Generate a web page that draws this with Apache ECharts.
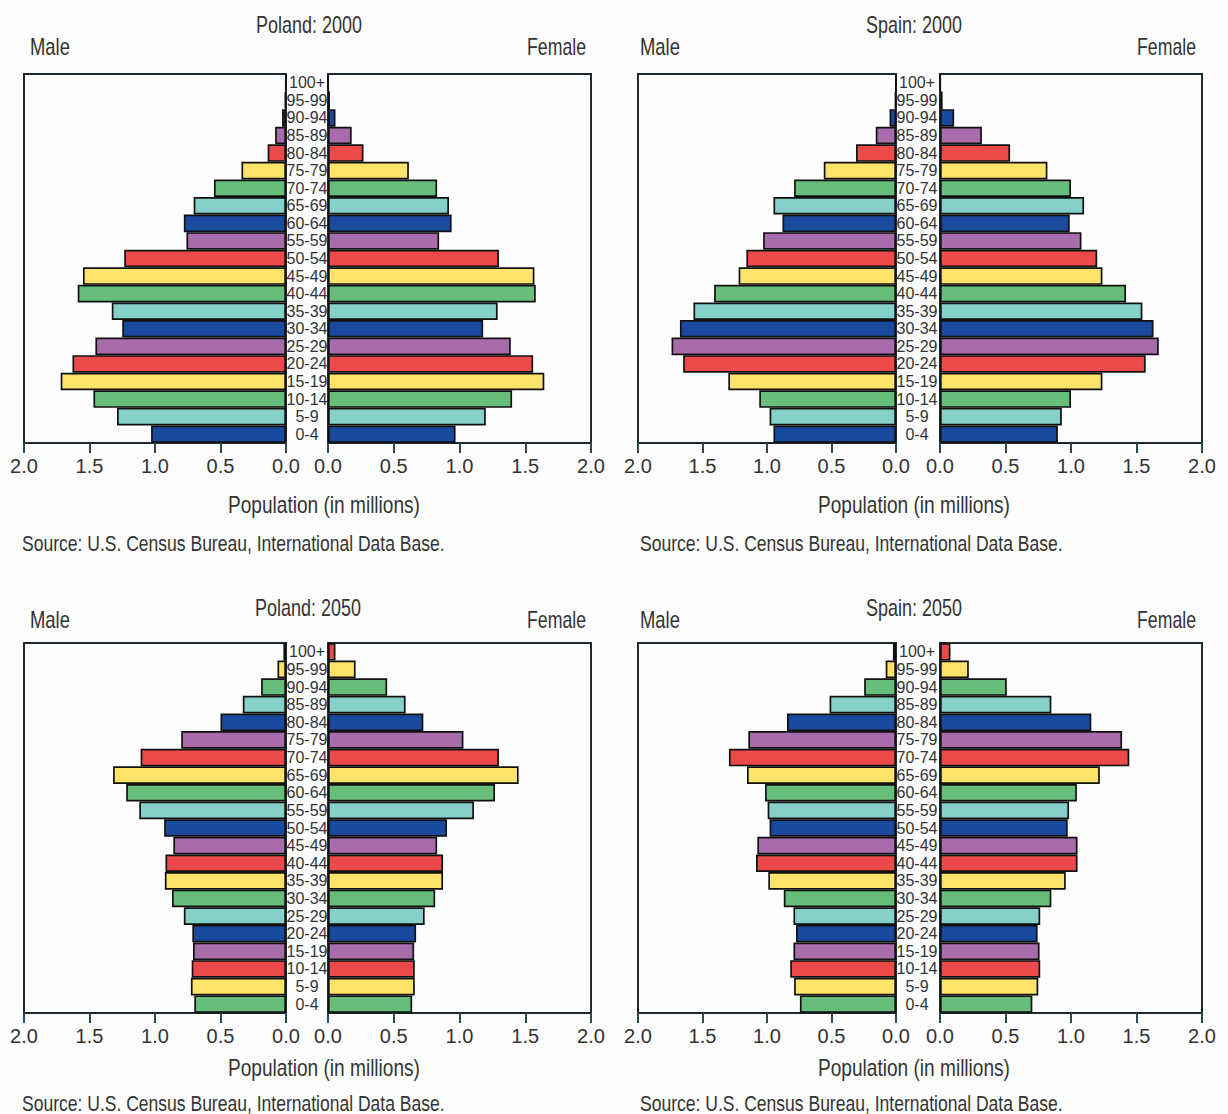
<!DOCTYPE html>
<html>
<head>
<meta charset="utf-8">
<script src="https://cdn.jsdelivr.net/npm/echarts@6/dist/echarts.min.js"></script>
<style>
html,body{margin:0;padding:0;background:#fdfdfe;}
#chart{width:1228px;height:1114px;}
</style>
</head>
<body>
<div id="chart"></div>
<script>
// ---------- data ----------
const ageGroups = ['0-4','5-9','10-14','15-19','20-24','25-29','30-34','35-39','40-44','45-49','50-54','55-59','60-64','65-69','70-74','75-79','80-84','85-89','90-94','95-99','100+'];
const axisTicks = [0, 0.5, 1.0, 1.5, 2.0];

const polandMale2000   = [1.03, 1.29, 1.47, 1.72, 1.63, 1.455, 1.25, 1.33, 1.59, 1.55, 1.235, 0.76, 0.78, 0.705, 0.55, 0.34, 0.14, 0.083, 0.03, 0.01, 0.003];
const polandFemale2000 = [0.97, 1.20, 1.40, 1.645, 1.56, 1.39, 1.18, 1.29, 1.58, 1.57, 1.30, 0.845, 0.94, 0.92, 0.83, 0.615, 0.27, 0.18, 0.057, 0.015, 0.003];
const spainMale2000    = [0.95, 0.98, 1.06, 1.30, 1.65, 1.74, 1.675, 1.57, 1.41, 1.22, 1.16, 1.03, 0.88, 0.95, 0.79, 0.56, 0.31, 0.157, 0.05, 0.008, 0.002];
const spainFemale2000  = [0.90, 0.93, 1.00, 1.24, 1.57, 1.67, 1.63, 1.545, 1.42, 1.24, 1.20, 1.08, 0.99, 1.10, 1.00, 0.82, 0.535, 0.32, 0.108, 0.02, 0.004];
const polandMale2050   = [0.70, 0.726, 0.72, 0.71, 0.715, 0.78, 0.87, 0.925, 0.92, 0.86, 0.93, 1.12, 1.22, 1.32, 1.11, 0.80, 0.50, 0.33, 0.19, 0.065, 0.02];
const polandFemale2050 = [0.64, 0.66, 0.66, 0.655, 0.67, 0.735, 0.815, 0.875, 0.875, 0.83, 0.905, 1.11, 1.27, 1.45, 1.30, 1.03, 0.725, 0.59, 0.45, 0.21, 0.057];
const spainMale2050    = [0.745, 0.79, 0.82, 0.795, 0.775, 0.795, 0.87, 0.99, 1.085, 1.075, 0.98, 0.995, 1.015, 1.155, 1.295, 1.145, 0.845, 0.515, 0.247, 0.08, 0.024];
const spainFemale2050  = [0.705, 0.75, 0.765, 0.76, 0.745, 0.765, 0.85, 0.96, 1.05, 1.05, 0.975, 0.985, 1.045, 1.22, 1.445, 1.39, 1.155, 0.85, 0.51, 0.22, 0.08];

const panelTitles = ['Poland: 2000', 'Spain: 2000', 'Poland: 2050', 'Spain: 2050'];
const maleLabel = 'Male';
const femaleLabel = 'Female';
const axisName = 'Population (in millions)';
const sourceText = 'Source: U.S. Census Bureau, International Data Base.';

// ---------- style / layout ----------
const FONT = '"Liberation Sans Narrow","Liberation Sans",Arial,sans-serif';
const TXT = '#333';
const palette2000 = ['#1a4a9e', '#86d0ca', '#67be7b', '#fee36b', '#ec4a4a', '#a86cac'];
const palette2050 = ['#67be7b', '#fee36b', '#ec4a4a', '#a86cac', '#1a4a9e', '#86d0ca'];

const panels = [
  {male: polandMale2000, female: polandFemale2000, pal: palette2000, lx: 24,  lw: 262, rx: 328, rw: 263, top: 74,  h: 369,
   titleX: 309, titleY: 25, mfY: 47, maleX: 30, femaleR: 586, popX: 324, popY: 505, srcX: 22, srcY: 543, titleW: 106},
  {male: spainMale2000,  female: spainFemale2000,  pal: palette2000, lx: 638, lw: 258, rx: 940, rw: 262, top: 74,  h: 369,
   titleX: 914, titleY: 25, mfY: 47, maleX: 640, femaleR: 1196, popX: 914, popY: 505, srcX: 640, srcY: 543, titleW: 96},
  {male: polandMale2050, female: polandFemale2050, pal: palette2050, lx: 24,  lw: 262, rx: 328, rw: 263, top: 643, h: 370,
   titleX: 308, titleY: 608, mfY: 620, maleX: 30, femaleR: 586, popX: 324, popY: 1068, srcX: 22, srcY: 1103, titleW: 106},
  {male: spainMale2050,  female: spainFemale2050,  pal: palette2050, lx: 638, lw: 258, rx: 940, rw: 262, top: 643, h: 370,
   titleX: 914, titleY: 608, mfY: 620, maleX: 640, femaleR: 1196, popX: 914, popY: 1068, srcX: 640, srcY: 1103, titleW: 96}
];

// measure helper to emulate the condensed typeface of the original
const mctx = document.createElement('canvas').getContext('2d');
function sx(text, font, target) {
  mctx.font = font;
  const w = mctx.measureText(text).width;
  return w > 0 ? target / w : 1;
}
function txt(text, x, y, size, align, target) {
  const font = size + 'px ' + FONT;
  return {type: 'text', x: x, y: y, scaleX: sx(text, font, target), originX: 0, originY: 0,
    style: {text: text, font: font, fill: TXT, textAlign: align, textVerticalAlign: 'middle'}};
}

const grids = [], xAxes = [], yAxes = [], series = [], graphics = [];
panels.forEach((p, i) => {
  ['male', 'female'].forEach((side, s) => {
    const gi = i * 2 + s;
    grids.push({
      left: s === 0 ? p.lx : p.rx, top: p.top,
      width: s === 0 ? p.lw : p.rw, height: p.h,
      show: true, borderColor: '#1f2a30', borderWidth: 2, backgroundColor: 'transparent'
    });
    xAxes.push({
      gridIndex: gi, type: 'value', min: axisTicks[0], max: axisTicks[axisTicks.length - 1],
      interval: axisTicks[1] - axisTicks[0], inverse: s === 0,
      axisLine: {show: true, onZero: false, lineStyle: {color: '#1f2a30', width: 2}},
      axisTick: {show: true, length: 10, lineStyle: {color: '#2a4a5a', width: 2}},
      splitLine: {show: false},
      axisLabel: {fontFamily: FONT, fontSize: 20, color: TXT, margin: 13,
        formatter: v => v.toFixed(1)}
    });
    yAxes.push({
      gridIndex: gi, type: 'category', data: ageGroups,
      position: s === 0 ? 'right' : 'left',
      axisLine: {show: false}, axisTick: {show: false}, splitLine: {show: false},
      axisLabel: s === 0 ? {show: true, align: 'center', margin: 21, fontFamily: FONT,
        fontSize: 16, color: TXT, interval: 0} : {show: false}
    });
    series.push({
      type: 'bar', xAxisIndex: gi, yAxisIndex: gi,
      data: p[side], barCategoryGap: '0%', barWidth: '100%',
      itemStyle: {
        borderColor: '#111', borderWidth: 1.7,
        color: params => p.pal[params.dataIndex % p.pal.length]
      },
      animation: false, silent: true
    });
  });

  graphics.push(txt(panelTitles[i], p.titleX, p.titleY, 23, 'center', p.titleW));
  graphics.push(txt(maleLabel, p.maleX, p.mfY, 23, 'left', 40));
  graphics.push(txt(femaleLabel, p.femaleR, p.mfY, 23, 'right', 59));
  graphics.push(txt(axisName, p.popX, p.popY, 23, 'center', 192));
  graphics.push(txt(sourceText, p.srcX, p.srcY, 22, 'left', 423));
});

const chart = echarts.init(document.getElementById('chart'), null, {renderer: 'svg'});
chart.setOption({
  backgroundColor: '#fdfdfe',
  animation: false,
  grid: grids, xAxis: xAxes, yAxis: yAxes, series: series,
  graphic: graphics
});
</script>
</body>
</html>
